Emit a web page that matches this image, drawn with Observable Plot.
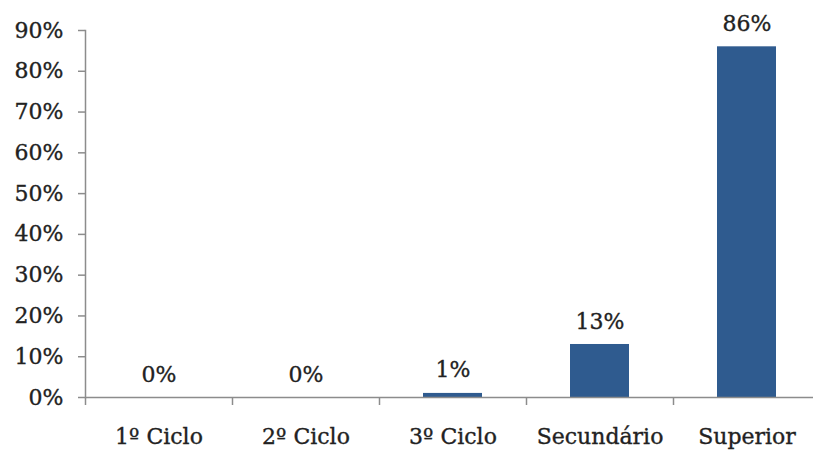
<!DOCTYPE html>
<html>
<head>
<meta charset="utf-8">
<script src="https://cdn.jsdelivr.net/npm/d3@7"></script>
<script src="https://cdn.jsdelivr.net/npm/@observablehq/plot@0.6"></script>
<style>
  html, body { margin: 0; padding: 0; background: #fff; }
  #chart svg { display: block; }
  #chart svg text { stroke: #222; stroke-width: 0.35px; }
</style>
</head>
<body>
<div id="chart"></div>
<script>
// Nível de escolaridade (percentagem)
const categories = ["1º Ciclo", "2º Ciclo", "3º Ciclo", "Secundário", "Superior"];
const values = [0, 0, 1, 13, 86];
const yTicks = [0, 10, 20, 30, 40, 50, 60, 70, 80, 90];

const data = categories.map((c, i) => ({categoria: c, valor: values[i]}));

const W = 813, H = 450;
const left = 85, rightEdge = 820;
const step = (rightEdge - left) / categories.length;
const axisColor = "#8c8c8c";
const barColor = "#2f5b8f";
const font = "'DejaVu Serif', 'Liberation Serif', serif";

const chart = Plot.plot({
  width: W,
  height: H,
  marginLeft: left,
  marginRight: 0,
  marginTop: 30,
  marginBottom: 53,
  style: {fontFamily: font, fontSize: "22px", color: "#222", background: "#fff"},
  x: {domain: categories, range: [left, rightEdge], paddingInner: 0.6, paddingOuter: 0.3, align: 0.5},
  y: {domain: [0, 90]},
  marks: [
    Plot.barY(data, {x: "categoria", y: "valor", fill: barColor}),
    Plot.text(data, {x: "categoria", y: "valor", text: d => d.valor + "%", dy: -23, fill: "#222", fontSize: 22}),
    // eixo vertical
    Plot.frame({anchor: "left", stroke: axisColor, strokeWidth: 1.5}),
    Plot.axisY({ticks: yTicks, tickFormat: d => d + "%", tickSize: 7, tickPadding: 15, stroke: axisColor, strokeWidth: 1.5, fill: "#222", label: null}),
    // eixo horizontal
    Plot.ruleY([0], {stroke: axisColor, strokeWidth: 1.5}),
    Plot.axisX({ticks: categories, tickSize: 8, text: null, dx: -step / 2, stroke: axisColor, strokeWidth: 1.5, label: null}),
    Plot.axisX({ticks: categories, tickSize: 0, tickPadding: 31, fill: "#222", label: null})
  ]
});

document.getElementById("chart").appendChild(chart);
</script>
</body>
</html>
